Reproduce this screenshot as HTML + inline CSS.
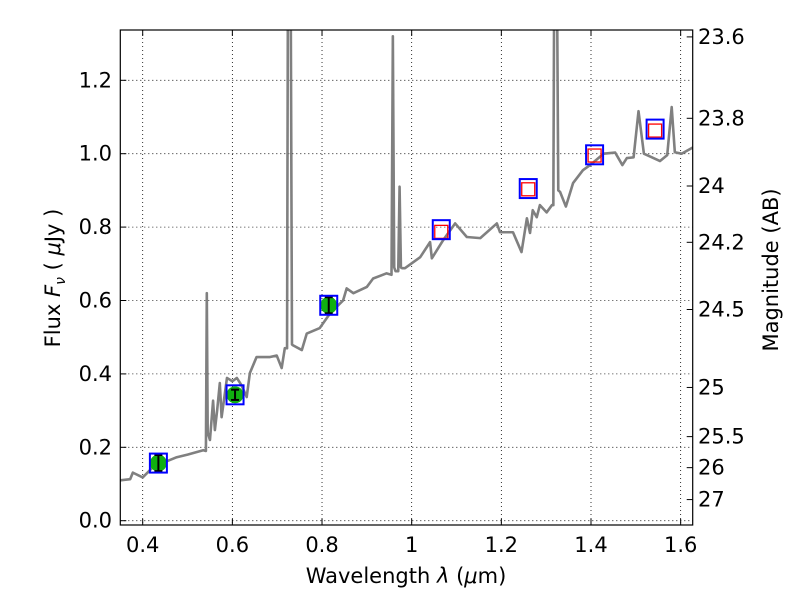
<!DOCTYPE html>
<html><head><meta charset="utf-8"><style>
html,body{margin:0;padding:0;background:#fff;}
svg text{font-family:"DejaVu Sans","Liberation Sans",sans-serif;fill:#000;}
</style></head><body>
<svg id="chart" width="800" height="600" viewBox="0 0 800 600">
<defs><clipPath id="clip"><rect x="120.3" y="30" width="572.4" height="495"/></clipPath></defs>
<rect width="800" height="600" fill="#fff"/>
<g id="grid"></g>
<g id="series" clip-path="url(#clip)"></g>
<rect x="120.3" y="30" width="572.4" height="495" fill="none" stroke="#000" stroke-width="1.2"/>
<g id="axes"></g>
<text x="406" y="583" text-anchor="middle" font-size="21">Wavelength  <tspan font-style="italic">λ</tspan> (<tspan font-style="italic">μ</tspan>m)</text>
<text transform="translate(60,278) rotate(-90)" text-anchor="middle" font-size="21">Flux  <tspan font-style="italic">F</tspan><tspan font-style="italic" font-size="14" dy="5">ν</tspan><tspan dy="-5">  ( </tspan><tspan font-style="italic">μ</tspan>Jy )</text>
<text transform="translate(778,270) rotate(-90)" text-anchor="middle" font-size="21">Magnitude (AB)</text>
</svg>
<script>
const specLam=[0.35,0.372,0.378,0.4,0.432,0.45,0.476,0.5,0.535,0.541,0.543,0.545,0.55,0.557,0.561,0.566,0.572,0.576,0.588,0.6,0.61,0.62,0.632,0.639,0.654,0.684,0.699,0.71,0.717,0.722,0.724,0.73,0.733,0.735,0.755,0.766,0.795,0.818,0.847,0.855,0.87,0.9,0.914,0.944,0.955,0.958,0.961,0.964,0.97,0.973,0.976,0.979,0.985,1.019,1.041,1.045,1.07,1.097,1.123,1.153,1.19,1.197,1.226,1.245,1.257,1.264,1.27,1.279,1.286,1.301,1.313,1.316,1.318,1.324,1.327,1.331,1.344,1.36,1.382,1.398,1.428,1.454,1.47,1.48,1.495,1.506,1.518,1.554,1.57,1.58,1.587,1.602,1.627];
const specFlux=[0.11,0.113,0.131,0.118,0.157,0.16,0.173,0.18,0.192,0.19,0.62,0.24,0.22,0.327,0.247,0.3,0.375,0.282,0.389,0.38,0.389,0.37,0.337,0.402,0.446,0.446,0.45,0.416,0.47,0.47,1.5,1.5,0.48,0.478,0.465,0.51,0.525,0.565,0.6,0.633,0.62,0.637,0.66,0.674,0.67,1.32,0.69,0.68,0.68,0.91,0.69,0.688,0.688,0.718,0.759,0.715,0.764,0.81,0.773,0.77,0.81,0.786,0.786,0.732,0.824,0.784,0.846,0.827,0.86,0.84,0.86,0.86,1.5,1.5,0.9,0.896,0.856,0.92,0.955,0.969,1.0,1.003,0.969,0.988,0.99,1.116,1.0,0.98,0.996,1.127,1.004,1.0,1.017];
const photLam=[0.435,0.606,0.815];
const photFlux=[0.157,0.343,0.587];
const photErr=[0.022,0.014,0.022];
const boxLam=[0.435,0.606,0.815,1.066,1.26,1.408,1.543];
const boxFlux=[0.157,0.343,0.587,0.793,0.905,0.997,1.067];
const modelLam=[1.066,1.26,1.408,1.543];
const modelFlux=[0.787,0.903,0.995,1.063];
const xTicks=[0.4,0.6,0.8,1.0,1.2,1.4,1.6];
const xTickLabels=["0.4","0.6","0.8","1","1.2","1.4","1.6"];
const yTicks=[0,0.2,0.4,0.6,0.8,1.0,1.2];
const yTickLabels=["0.0","0.2","0.4","0.6","0.8","1.0","1.2"];
const magTicks=[23.6,23.8,24,24.2,24.5,25,25.5,26,27];
const magTickLabels=["23.6","23.8","24","24.2","24.5","25","25.5","26","27"];

const NS="http://www.w3.org/2000/svg";
const X=v=>142.7+(v-0.4)*448.3;
const Y=v=>520.7-v*367;
const M=m=>Y(Math.pow(10,(23.9-m)/2.5));
function mk(tag,attrs,parent){const e=document.createElementNS(NS,tag);for(const k in attrs)e.setAttribute(k,attrs[k]);parent.appendChild(e);return e;}
const grid=document.getElementById('grid'),series=document.getElementById('series'),axes=document.getElementById('axes');
xTicks.forEach((t,i)=>{
  const g=mk('line',{x1:X(t),x2:X(t),y1:30,y2:525,stroke:'#000','stroke-width':0.8,'stroke-dasharray':'1,3'},grid);
  
  
  mk('line',{x1:X(t),x2:X(t),y1:525,y2:519,stroke:'#000'},axes);
  mk('line',{x1:X(t),x2:X(t),y1:30,y2:36,stroke:'#000'},axes);
  const l=mk('text',{x:X(t),y:552,'text-anchor':'middle','font-size':21},axes);
  l.textContent=xTickLabels[i];
  
  
});
yTicks.forEach((t,i)=>{
  const g=mk('line',{x1:120.3,x2:692.7,y1:Y(t),y2:Y(t),stroke:'#000','stroke-width':0.8,'stroke-dasharray':'1,3'},grid);
  
  
  mk('line',{x1:120.3,x2:126.3,y1:Y(t),y2:Y(t),stroke:'#000'},axes);
  const l=mk('text',{x:112,y:Y(t)+7,'text-anchor':'end','font-size':21},axes);
  l.textContent=yTickLabels[i];
  
  
});
magTicks.forEach((m,i)=>{
  mk('line',{x1:686.7,x2:692.7,y1:M(m),y2:M(m),stroke:'#000'},axes);
  const l=mk('text',{x:698,y:M(m)+7,'font-size':21},axes);
  l.textContent=magTickLabels[i];
  
  
});
const sp=mk('polyline',{points:specLam.map((l,i)=>X(l)+','+Y(specFlux[i])).join(' '),fill:'none',stroke:'#808080','stroke-width':2.6,'stroke-linejoin':'round'},series);


photLam.forEach((l,i)=>{
  const c=mk('circle',{cx:X(l),cy:Y(photFlux[i]),r:8.5,fill:'#10b010'},series);
  
  
  const y1=Y(photFlux[i]+photErr[i]),y2=Y(photFlux[i]-photErr[i]);
  mk('line',{x1:X(l),x2:X(l),y1:y1,y2:y2,stroke:'#000','stroke-width':2},series);
  mk('line',{x1:X(l)-4,x2:X(l)+4,y1:y1,y2:y1,stroke:'#000','stroke-width':2},series);
  mk('line',{x1:X(l)-4,x2:X(l)+4,y1:y2,y2:y2,stroke:'#000','stroke-width':2},series);
});
modelLam.forEach((l,i)=>{
  const r=mk('rect',{x:X(l)-6.5,y:Y(modelFlux[i])-6.5,width:13,height:13,fill:'none',stroke:'#ff0000','stroke-width':1.3},series);
  
  
});
boxLam.forEach((l,i)=>{
  const r=mk('rect',{x:X(l)-8.5,y:Y(boxFlux[i])-9.5,width:17,height:19,fill:'none',stroke:'#0000ff','stroke-width':2},series);
  
  
});
</script>
</body></html>
